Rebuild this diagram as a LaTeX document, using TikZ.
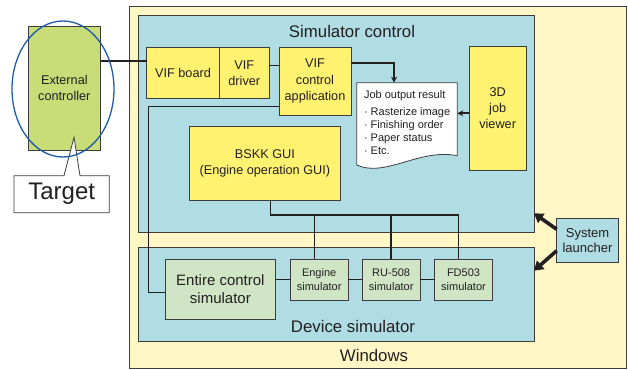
\documentclass[tikz,border=0pt]{standalone}
\usepackage{fontspec}
\setmainfont{Liberation Sans}
\usetikzlibrary{arrows.meta,calc,shapes.geometric}
\definecolor{winfill}{HTML}{FFF8C6}
\definecolor{panelfill}{HTML}{B0DDE3}
\definecolor{vifyellow}{HTML}{FFF271}
\definecolor{extgreen}{HTML}{C8DC78}
\definecolor{simgreen}{HTML}{CFE5C6}
\definecolor{edge}{HTML}{3C3C3C}
\definecolor{ringblue}{HTML}{1F5BAA}
\definecolor{ink}{HTML}{231F20}

\begin{document}
\begin{tikzpicture}[x=1pt,y=-1pt,
  every node/.style={inner sep=0pt, outer sep=0pt, text=ink},
  size/.style 2 args={minimum width=#1, minimum height=#2, anchor=north west},
  frame/.style={draw=edge, line width=0.8pt},
  panel/.style={frame, fill=panelfill},
  ybox/.style={frame, fill=vifyellow, align=center, font=\fontsize{12.7}{16.3}\selectfont},
  gbox/.style={frame, fill=simgreen, align=center, font=\fontsize{11}{14}\selectfont},
  title/.style={font=\fontsize{16.8}{20}\selectfont},
  link/.style={draw=ink, line width=1.2pt},
  heavy/.style={draw=ink, line width=2.1pt},
  smallarrow/.style={draw=ink, line width=1.8pt, -{Stealth[length=6pt,width=6pt]}},
  bigarrow/.style={draw=ink, line width=3.6pt, -{Triangle[length=9pt,width=11pt]}}
]
\useasboundingbox (0,0) rectangle (628,369);

% Windows host and its two panels
\node[frame, fill=winfill, size={497}{362}] (win) at (129.5,6) {};
\node[title] (wintitle) at (374,355) {Windows};
\node[panel, size={395.3}{217.7}] (simctl) at (138.7,15) {};
\node[title] (simtitle) at (352,31) {Simulator control};
\node[panel, size={395.3}{94}] (devsim) at (138.7,247.3) {};
\node[title] (devtitle) at (353,326) {Device simulator};

% External controller
\node[frame, fill=extgreen, size={72.7}{124}, align=center,
      font=\fontsize{12.7}{15.7}\selectfont] (ext) at (28,26) {External\\controller};

% Simulator control contents
\node[ybox, size={72.6}{51.4}] (vifb) at (146.7,47.3) {VIF board};
\node[ybox, size={50}{51.4}] (vifd) at (219.3,47.3) {VIF\\driver};
\node[ybox, size={72}{67.7}] (vifa) at (279,47.3) {VIF\\control\\application};
\node[ybox, size={56.7}{124}] (viewer) at (469.3,46) {3D\\job\\viewer};
\node[ybox, size={151.7}{73.3}] (bskk) at (189,126.7) {BSKK GUI\\(Engine operation GUI)};

% Job output document
\node[size={100.6}{73}] (doc) at (356.7,82.7) {};
\draw[frame, fill=white] (doc.south east) -- (doc.north east) -- (doc.north west)
  -- ($(doc.south west)+(0,9.3)$)
  .. controls ($(doc.south west)+(28.3,22.3)$) and ($(doc.south east)+(-37.3,-7.7)$) .. (doc.south east)
  -- cycle;
\node[anchor=north west, align=left, font=\fontsize{11}{13}\selectfont] (doctext)
  at ($(doc.north west)+(7.3,8.3)$)
  {Job output result\\[3.5pt]· Rasterize image\\· Finishing order\\· Paper status\\· Etc.};

% Device simulator contents
\node[gbox, size={110.7}{60}, font=\fontsize{15}{17.6}\selectfont] (entire) at (165,259.3) {Entire control\\simulator};
\node[gbox, size={57.7}{40.7}] (engine) at (290.3,259.3) {Engine\\simulator};
\node[gbox, size={57.7}{40.7}] (ru) at (362.3,259.3) {RU-508\\simulator};
\node[gbox, size={57.6}{40.7}] (fd) at (434.7,259.3) {FD503\\simulator};

% System launcher
\node[frame, fill=panelfill, size={61.6}{43.7}, align=center,
      font=\fontsize{13}{15}\selectfont] (launcher) at (556.7,218.3) {System\\launcher};

% Connections
\draw[heavy] (ext.east |- 0,61) -- (vifb.west |- 0,61);
\draw[link] (vifd.east |- 0,65.3) -- (vifa.west |- 0,65.3);
\draw[smallarrow] (vifa.east |- 0,63.3) -| ($(doc.north west)+(37.3,0)$);
\draw[smallarrow] (viewer.west |- 0,113.3) -- (doc.east |- 0,113.3);
\draw[link] (vifa.west |- 0,106.7) -- (148.3,106.7) |- (entire.west |- 0,292.7);
\coordinate (busL) at (270.7,215);
\coordinate (busR) at (458.7,215);
\draw[link] (bskk.south -| busL) -- (busL) -- (busR) -- (fd.north -| busR);
\draw[link] (314.3,215) -- (engine.north -| 314.3,0);
\draw[link] (391,215) -- (ru.north -| 391,0);
\draw[link] (entire.east |- 0,279.3) -- (engine.west |- 0,279.3);
\draw[link] (engine.east |- 0,279.3) -- (ru.west |- 0,279.3);
\draw[link] (ru.east |- 0,279.3) -- (fd.west |- 0,279.3);
\draw[bigarrow] (launcher.west |- 0,229.3) -- (simctl.east |- 0,213.3);
\draw[bigarrow] (launcher.west |- 0,250.7) -- (devsim.east |- 0,270.7);

% Target callout
\node[size={95.3}{37}] (target) at (14,175.7) {};
\coordinate (tip) at (74,137.3);
\draw[frame, fill=white] (target.north west) -- ($(target.north west)+(50,0)$) -- (tip)
  -- ($(target.north west)+(66,0)$) -- (target.north east) -- (target.south east)
  -- (target.south west) -- cycle;
\node[font=\fontsize{24}{28}\selectfont] (targettext) at (target.center) {Target};

% Highlight ring
\node[ellipse, draw=ringblue, line width=1.3pt, minimum width=102, minimum height=136] (ring) at (63,89) {};
\end{tikzpicture}
\end{document}
